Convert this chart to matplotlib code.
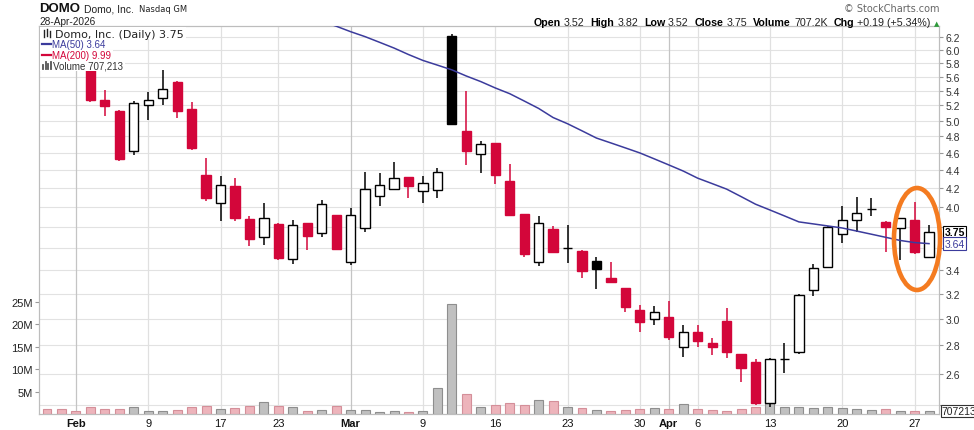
import numpy as np
import matplotlib
matplotlib.use("Agg")
import matplotlib.pyplot as plt
from matplotlib.patches import Ellipse, Rectangle
from matplotlib.lines import Line2D
from matplotlib.ticker import FixedLocator, NullLocator, FuncFormatter
import matplotlib.transforms as mtransforms

plt.rcParams['font.family'] = ['Liberation Sans', 'DejaVu Sans']

# ---------------- data ----------------
dates = ["2026-01-29", "2026-01-30",
         "2026-02-02", "2026-02-03", "2026-02-04", "2026-02-05", "2026-02-06",
         "2026-02-09", "2026-02-10", "2026-02-11", "2026-02-12", "2026-02-13",
         "2026-02-17", "2026-02-18", "2026-02-19", "2026-02-20",
         "2026-02-23", "2026-02-24", "2026-02-25", "2026-02-26", "2026-02-27",
         "2026-03-02", "2026-03-03", "2026-03-04", "2026-03-05", "2026-03-06",
         "2026-03-09", "2026-03-10", "2026-03-11", "2026-03-12", "2026-03-13",
         "2026-03-16", "2026-03-17", "2026-03-18", "2026-03-19", "2026-03-20",
         "2026-03-23", "2026-03-24", "2026-03-25", "2026-03-26", "2026-03-27",
         "2026-03-30", "2026-03-31", "2026-04-01", "2026-04-02",
         "2026-04-06", "2026-04-07", "2026-04-08", "2026-04-09", "2026-04-10",
         "2026-04-13", "2026-04-14", "2026-04-15", "2026-04-16", "2026-04-17",
         "2026-04-20", "2026-04-21", "2026-04-22", "2026-04-23", "2026-04-24",
         "2026-04-27", "2026-04-28"]

opens = [6.30, 6.14, 6.10, 5.96, 5.27, 5.12, 4.62, 5.20, 5.30, 5.53, 5.15, 4.35,
         4.04, 4.22, 3.88, 3.70, 3.83, 3.50, 3.84, 3.74, 3.92, 3.47, 3.79, 4.12,
         4.19, 4.32, 4.17, 4.18, 6.22, 4.87, 4.59, 4.72, 4.28, 3.93, 3.47, 3.78,
         3.60, 3.57, 3.48, 3.33, 3.25, 3.07, 3.00, 3.01, 2.79, 2.90, 2.82, 2.98,
         2.74, 2.68, 2.41, 2.70, 2.75, 3.23, 3.43, 3.73, 3.87, 3.98, 3.85, 3.79,
         3.87, 3.52]
highs = [6.36, 6.20, 6.18, 6.00, 5.41, 5.14, 5.26, 5.38, 5.70, 5.54, 5.24, 4.54,
         4.33, 4.31, 3.91, 4.04, 3.84, 3.87, 3.84, 4.07, 3.92, 3.99, 4.38, 4.37,
         4.49, 4.32, 4.33, 4.42, 6.26, 5.40, 4.74, 4.72, 4.47, 3.93, 3.91, 3.81,
         3.82, 3.58, 3.52, 3.47, 3.25, 3.11, 3.10, 3.14, 2.95, 2.95, 2.85, 3.08,
         2.74, 2.70, 2.71, 2.82, 3.20, 3.45, 3.81, 4.01, 4.11, 4.09, 3.86, 3.89,
         4.05, 3.82]
lows = [6.10, 6.00, 5.97, 5.25, 5.06, 4.51, 4.58, 5.01, 5.21, 5.03, 4.63, 4.06,
        3.86, 3.86, 3.62, 3.63, 3.49, 3.45, 3.58, 3.70, 3.58, 3.445, 3.75, 4.01,
        4.19, 4.10, 4.04, 4.10, 4.94, 4.46, 4.37, 4.25, 3.91, 3.52, 3.44, 3.55,
        3.46, 3.33, 3.24, 3.30, 3.05, 2.90, 2.95, 2.84, 2.72, 2.79, 2.73, 2.71,
        2.55, 2.40, 2.39, 2.61, 2.74, 3.18, 3.43, 3.65, 3.75, 3.91, 3.56, 3.49,
        3.54, 3.52]
closes = [6.15, 6.05, 6.00, 5.27, 5.19, 4.53, 5.23, 5.28, 5.43, 5.13, 4.66, 4.10,
          4.23, 3.89, 3.68, 3.89, 3.51, 3.82, 3.71, 4.03, 3.59, 3.92, 4.19, 4.23,
          4.31, 4.22, 4.26, 4.38, 4.96, 4.62, 4.71, 4.34, 3.92, 3.54, 3.84, 3.56,
          3.60, 3.39, 3.41, 3.30, 3.09, 2.97, 3.05, 2.86, 2.90, 2.83, 2.79, 2.75,
          2.64, 2.41, 2.70, 2.70, 3.19, 3.42, 3.80, 3.87, 3.94, 3.98, 3.80, 3.89,
          3.56, 3.75]
prior_close = 6.40

volumes_m = [1.2, 1.2, 0.76, 1.65, 1.2, 1.2, 1.65, 0.76, 0.76, 0.98, 1.65, 1.87,
             1.2, 1.43, 1.8, 2.68, 1.8, 1.65, 0.76, 0.98, 1.8, 0.98, 0.98, 0.53,
             0.76, 0.53, 0.76, 5.8, 24.5, 4.46, 1.65, 2.0, 2.54, 2.1, 3.2, 3.0,
             1.5, 1.43, 0.98, 0.76, 0.98, 1.2, 1.43, 1.2, 2.3, 1.2, 0.98, 0.76,
             1.2, 1.65, 3.5, 1.65, 1.65, 1.43, 1.65, 1.43, 1.2, 0.98, 1.2, 0.76,
             0.76, 0.707213]

ma50 = [np.nan] * 19 + [6.46, 6.38, 6.29, 6.21, 6.12, 6.03, 5.93, 5.84, 5.77, 5.70,
                        5.61, 5.53, 5.44, 5.36, 5.26, 5.16, 5.04, 4.96, 4.87, 4.78,
                        4.72, 4.66, 4.60, 4.53, 4.46, 4.39, 4.31, 4.25, 4.19, 4.11,
                        4.03, 3.97, 3.91, 3.85, 3.83, 3.81, 3.79, 3.76, 3.73, 3.70,
                        3.67, 3.65, 3.64]
ma200_last = 9.99

price_ticks = [2.4, 2.6, 2.8, 3.0, 3.2, 3.4, 3.6, 3.8, 4.0, 4.2, 4.4, 4.6, 4.8,
               5.0, 5.2, 5.4, 5.6, 5.8, 6.0, 6.2]
hidden_price_labels = [2.4, 3.6, 3.8]   # covered by the value tags in the reference
vol_ticks_m = [5, 10, 15, 20, 25]
tick_dates = ["2026-02-02", "2026-02-09", "2026-02-17", "2026-02-23", "2026-03-02",
              "2026-03-09", "2026-03-16", "2026-03-23", "2026-03-30", "2026-04-01",
              "2026-04-06", "2026-04-13", "2026-04-20", "2026-04-27"]
tick_labels = ["Feb", "9", "17", "23", "Mar", "9", "16", "23", "30", "Apr", "6",
               "13", "20", "27"]
month_labels = ["Feb", "Mar", "Apr"]

# ---------------- figure ----------------
W, H = 974, 431
fig = plt.figure(figsize=(W / 100, H / 100), dpi=100)
fig.patch.set_facecolor('white')
L, R, T, B = 39, 939, 27, 415
ax_vol = fig.add_axes([L / W, 1 - B / H, (R - L) / W, (B - T) / H])
ax = ax_vol.twinx()
ax.patch.set_visible(False)

x = np.arange(len(dates))
o = np.array(opens); h = np.array(highs); l = np.array(lows); c = np.array(closes)
prev = np.concatenate([[prior_close], c[:-1]])
up = c >= prev
RED = '#d3063a'
BLUE = '#3b3b9c'
col = np.where(up, '#000000', RED)

# limits
ax.set_yscale('log')
ax.set_ylim(2.345, 6.383)
ax.set_xlim(-0.553, 61.69)
ax_vol.set_xlim(-0.553, 61.69)
ax_vol.set_ylim(0, 86.6e6)

# gridlines (under volume bars)
blend = mtransforms.blended_transform_factory(ax_vol.transAxes, ax.transData)
for p in price_ticks:
    ax_vol.plot([0, 1], [p, p], transform=blend, color='#e2e2e2', lw=0.8, zorder=0.5)
tick_idx = [dates.index(d) for d in tick_dates]
for ti, lab in zip(tick_idx, tick_labels):
    ax_vol.axvline(ti, color='#c4c4c4' if lab in month_labels else '#e0e0e0',
                   lw=0.9, zorder=0.5)

# volume
vfill = np.where(up, '#c0c0c0', '#edb4bb')
vedge = np.where(up, '#8e8e8e', '#d48f99')
ax_vol.bar(x, np.array(volumes_m) * 1e6, width=0.62, color=vfill, edgecolor=vedge,
           linewidth=0.8, zorder=2)

# candles
ax.vlines(x, l, h, colors=col, linewidth=1.1, zorder=3)
face = [cc if ci < oi else 'white' for cc, ci, oi in zip(col, c, o)]
ax.bar(x, np.abs(c - o), bottom=np.minimum(o, c), width=0.64, color=face,
       edgecolor=col, linewidth=1.0, zorder=4)
ax.plot(x, ma50, color=BLUE, lw=1.1, zorder=5)

# axes ticks
ax.yaxis.set_major_locator(FixedLocator(price_ticks))
ax.yaxis.set_minor_locator(NullLocator())
ax.yaxis.set_major_formatter(FuncFormatter(
    lambda v, _: "" if any(abs(v - hp) < 1e-6 for hp in hidden_price_labels) else f"{v:.1f}"))
ax.tick_params(axis='y', which='major', length=3, width=0.8, color='#999999',
               labelsize=7.5, labelcolor='#333333', pad=1.5)
ax.tick_params(axis='y', which='minor', length=0)

ax_vol.yaxis.set_major_locator(FixedLocator([v * 1e6 for v in vol_ticks_m]))
ax_vol.yaxis.set_major_formatter(FuncFormatter(lambda v, _: f"{v / 1e6:.0f}M"))
ax_vol.tick_params(axis='y', length=3, width=0.8, color='#999999', labelsize=8,
                   labelcolor='#222222', pad=1.5)
ax_vol.set_xticks(tick_idx)
ax_vol.set_xticklabels(tick_labels)
ax_vol.tick_params(axis='x', length=0, labelsize=8, labelcolor='#111111', pad=3)
for t in ax_vol.get_xticklabels():
    if t.get_text() in month_labels:
        t.set_fontweight('bold')

for a in (ax, ax_vol):
    for s in a.spines.values():
        s.set_color('#bdbdbd')
        s.set_linewidth(0.8)

# value tags on the right
ax.annotate(f"{c[-1]:.2f}", xy=(1, c[-1]), xycoords=ax.get_yaxis_transform(),
            xytext=(4, 0), textcoords='offset points', va='center', ha='left',
            fontsize=7.5, fontweight='bold', color='black', annotation_clip=False,
            bbox=dict(boxstyle='square,pad=0.12', fc='white', ec='black', lw=0.8),
            zorder=10)
ax.annotate(f"{ma50[-1]:.2f}", xy=(1, ma50[-1]), xycoords=ax.get_yaxis_transform(),
            xytext=(4, 0), textcoords='offset points', va='center', ha='left',
            fontsize=7.5, color=BLUE, annotation_clip=False,
            bbox=dict(boxstyle='square,pad=0.12', fc='white', ec=BLUE, lw=0.8),
            zorder=11)
vblend = mtransforms.blended_transform_factory(ax.transAxes, ax_vol.transData)
ax.annotate(f"{int(round(volumes_m[-1] * 1e6))}", xy=(1, volumes_m[-1] * 1e6),
            xycoords=vblend, xytext=(2, 0), textcoords='offset points',
            va='center', ha='left', fontsize=7.5, color='#222222',
            annotation_clip=False,
            bbox=dict(boxstyle='square,pad=0.12', fc='white', ec='#333333', lw=0.8),
            zorder=10)

# ---------------- header / legend texts ----------------
renderer = fig.canvas.get_renderer()


def seq(x0, y, parts, align='left'):
    objs = []
    for s, props, gap in parts:
        t = fig.text(0, 0, s, va='baseline', ha='left', **props)
        w = t.get_window_extent(renderer).width
        objs.append((t, w, gap))
    total = sum(w + g for _, w, g in objs)
    xx = x0 - total if align == 'right' else x0
    for t, w, g in objs:
        t.set_position((xx / W, 1 - y / H))
        xx += w + g


seq(39, 12.5, [("DOMO", dict(fontsize=9.5, fontweight='bold', color='#111111'), 4),
               ("Domo, Inc.", dict(fontsize=7.5, color='#222222'), 5),
               ("Nasdaq GM", dict(fontsize=6, family='DejaVu Sans', color='#222222'), 0)])
fig.text(39 / W, 1 - 25 / H, "28-Apr-2026", fontsize=7.3, color='#222222', va='baseline')

fig.text(939 / W, 1 - 12 / H, "\u00a9 StockCharts.com", fontsize=7, color='#666666',
         family='DejaVu Sans', ha='right', va='baseline')

bold = dict(fontsize=7.7, fontweight='bold', color='#000000')
norm = dict(fontsize=7.7, color='#222222')
chg = c[-1] - c[-2]
pct = chg / c[-2] * 100
seq(939, 26, [("Open", bold, 3), (f"{o[-1]:.2f}", norm, 6),
              ("High", bold, 3), (f"{h[-1]:.2f}", norm, 6),
              ("Low", bold, 3), (f"{l[-1]:.2f}", norm, 6),
              ("Close", bold, 3), (f"{c[-1]:.2f}", norm, 6),
              ("Volume", bold, 3), (f"{volumes_m[-1] * 1000:.1f}K", norm, 6),
              ("Chg", bold, 3), (f"+{chg:.2f} (+{pct:.2f}%)", norm, 3),
              ("\u25b2", dict(fontsize=5, color='#2e9a3a', family='DejaVu Sans'), 0)],
    align='right')

# legend lines, each on its own white band (gridlines remain visible elsewhere)
legend_rows = [
    (f"Domo, Inc. (Daily) {c[-1]:.2f}", dict(fontsize=8, family='DejaVu Sans', color='#222222'), 55, 38, 28, 39.5),
    (f"MA(50) {ma50[-1]:.2f}", dict(fontsize=7, color=BLUE), 52, 48.5, 39.5, 50.5),
    (f"MA(200) {ma200_last:.2f}", dict(fontsize=7, color=RED), 52, 59, 50.5, 61),
    (f"Volume {int(round(volumes_m[-1] * 1e6)):,}", dict(fontsize=7, color='#333333'), 53, 69.5, 61, 71.5),
]
for s, props, tx, ty, y0, y1 in legend_rows:
    t = fig.text(tx / W, 1 - ty / H, s, va='baseline', zorder=3, **props)
    x1 = t.get_window_extent(renderer).x1
    fig.add_artist(Rectangle((40 / W, 1 - y1 / H), (x1 + 2 - 40) / W, (y1 - y0) / H,
                             facecolor='white', edgecolor='none', zorder=2.4))

# candle icon
for xx, y0, y1 in [(44, 31, 38), (47, 30, 37), (50, 32, 38)]:
    fig.add_artist(Line2D([xx / W, xx / W], [1 - y1 / H, 1 - y0 / H], color='#222222',
                          lw=1.0, zorder=3))
fig.add_artist(Line2D([42 / W, 51 / W], [1 - 45 / H, 1 - 45 / H], color=BLUE, lw=1.6,
                      zorder=3))
fig.add_artist(Line2D([42 / W, 51 / W], [1 - 55.5 / H, 1 - 55.5 / H], color=RED, lw=1.6,
                      zorder=3))
# volume icon
for xx, y0 in [(43, 66), (45.5, 63), (48, 64.5), (50.5, 62.5)]:
    fig.add_artist(Line2D([xx / W, xx / W], [1 - 69.5 / H, 1 - y0 / H], color='#555555',
                          lw=1.3, zorder=3))

# highlight ellipse
fig.add_artist(Ellipse((917 / W, 1 - 240 / H), 46 / W, 102 / H, fill=False,
                       edgecolor='#f47b20', lw=3.3, zorder=6))

fig.savefig('out.png', dpi=100, facecolor='white')
